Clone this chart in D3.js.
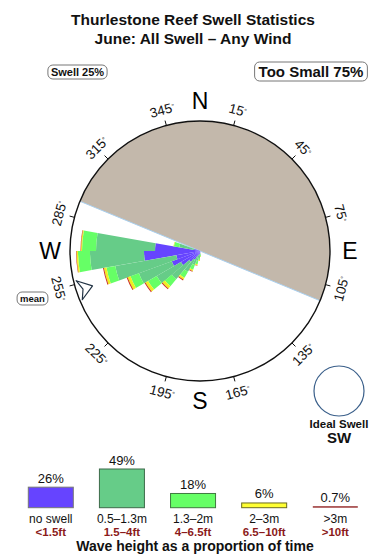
<!DOCTYPE html>
<html><head><meta charset="utf-8">
<script src="https://cdn.jsdelivr.net/npm/d3@7"></script>
<style>
body{margin:0;background:#fff}
svg{display:block;font-family:"Liberation Sans",Arial,Helvetica,sans-serif}
</style>
</head><body>
<svg id="chart" width="390" height="560"></svg>
<script>
// ---------- data ----------
const titleLines = ["Thurlestone Reef Swell Statistics", "June: All Swell \u2013 Any Wind"];
const swellShare = "Swell 25%";
const tooSmallShare = "Too Small 75%";
const directions = [175, 185, 195, 205, 215, 225, 235, 245, 255, 265, 275, 285];
const binWidth = 10;
// radial amounts per direction bin for each wave-height band (stacked outward)
const noSwell    = [0.2, 0.3, 0.4, 0.6, 1.0, 1.4, 2.2, 3.0, 2.4, 5.6, 4.5, 0.6];
const band05_13  = [0.2, 0.4, 0.6, 0.9, 1.4, 2.3, 2.8, 3.5, 6.2, 5.4, 5.9, 1.5];
const band13_2   = [0.15, 0.2, 0.35, 0.5, 0.7, 0.9, 1.0, 0.9, 0.9, 1.2, 1.4, 0.55];
const band2_3    = [0.05, 0.1, 0.1, 0.15, 0.2, 0.3, 0.3, 0.3, 0.25, 0.15, 0.1, 0.05];
const band3plus  = [0.0, 0.0, 0.05, 0.05, 0.1, 0.1, 0.1, 0.1, 0.1, 0.05, 0.05, 0.0];
const radialMax = 13;
const tooSmallFrom = 292.5, tooSmallTo = 472.5;
const meanDirection = 252;
const tickAngles = [15, 45, 75, 105, 135, 165, 195, 225, 255, 285, 315, 345];
const cardinals = ["N", "E", "S", "W"];
const cardinalAngles = [0, 90, 180, 270];
const bandNames = ["no swell", "0.5\u20131.3m", "1.3\u20132m", "2\u20133m", ">3m"];
const feetNames = ["<1.5ft", "1.5\u20134ft", "4\u20136.5ft", "6.5\u201310ft", ">10ft"];
const bandPercent = [26, 49, 18, 6, 0.7];
const bandPercentText = ["26%", "49%", "18%", "6%", "0.7%"];
const idealSwell = ["Ideal Swell", "SW"];
const legendCaption = "Wave height as a proportion of time";

// ---------- styles ----------
const rosefill = ["#6644ff", "#66cc88", "#66ff66", "#eeee22", "#cc3322"];
const legendFill = ["#6644ff", "#66cc88", "#66ff66", "#ffff33", "#993333"];
const legendStroke = ["#777777", "#3d6b4a", "#3f7a3f", "#6b6b20", "#7a3a3a"];

const svg = d3.select("#chart");
const cx = 200, cy = 251, R = 130;
const rad = d => d * Math.PI / 180;

// title
svg.selectAll("text.title").data(titleLines).join("text")
  .attr("x", 193).attr("y", (d, i) => 24.5 + i * 19)
  .attr("text-anchor", "middle").attr("font-size", 15.5).attr("font-weight", "bold")
  .attr("fill", "#111").text(d => d);

// share boxes
function labelBox(text, x, y, fs, padX, h) {
  const g = svg.append("g");
  const t = g.append("text").attr("x", x).attr("y", y).attr("text-anchor", "middle")
    .attr("dominant-baseline", "central").attr("font-size", fs).attr("font-weight", "bold")
    .attr("fill", "#111").text(text);
  const w = t.node().getComputedTextLength();
  g.insert("rect", "text").attr("x", x - w / 2 - padX).attr("y", y - h / 2)
    .attr("width", w + 2 * padX).attr("height", h).attr("rx", 5)
    .attr("fill", "#fff").attr("stroke", "#777").attr("stroke-width", 1);
}
labelBox(swellShare, 77.5, 72, 11, 3, 14);
labelBox(tooSmallShare, 311, 71.5, 15, 4, 19);
labelBox("mean", 32.5, 298.5, 9.5, 3, 13);

// rose
const g = svg.append("g").attr("transform", `translate(${cx},${cy})`);
const r = d3.scaleLinear().domain([0, radialMax]).range([0, R]);
const arc = d3.arc();

// too small sector
g.append("path").attr("d", arc({innerRadius: 0, outerRadius: R,
  startAngle: rad(tooSmallFrom), endAngle: rad(tooSmallTo)})).attr("fill", "#c3b8ab");
g.append("line")
  .attr("x1", R * Math.sin(rad(tooSmallFrom))).attr("y1", -R * Math.cos(rad(tooSmallFrom)))
  .attr("x2", R * Math.sin(rad(tooSmallTo))).attr("y2", -R * Math.cos(rad(tooSmallTo)))
  .attr("stroke", "#a9cfee").attr("stroke-width", 1);

// stacked bars
const table = directions.map((d, i) => ({dir: d, b0: noSwell[i], b1: band05_13[i], b2: band13_2[i], b3: band2_3[i], b4: band3plus[i]}));
const stack = d3.stack().keys(["b0", "b1", "b2", "b3", "b4"])(table);
stack.forEach((layer, li) => {
  g.append("g").selectAll("path").data(layer).join("path")
    .attr("d", d => arc({innerRadius: r(d[0]), outerRadius: r(d[1]),
      startAngle: rad(d.data.dir - binWidth / 2), endAngle: rad(d.data.dir + binWidth / 2)}))
    .attr("fill", rosefill[li]);
});

// outline
g.append("circle").attr("r", R).attr("fill", "none").attr("stroke", "#111").attr("stroke-width", 1.4);

// ticks and labels
g.selectAll("line.tick").data(tickAngles).join("line")
  .attr("x1", d => R * Math.sin(rad(d))).attr("y1", d => -R * Math.cos(rad(d)))
  .attr("x2", d => (R + 5) * Math.sin(rad(d))).attr("y2", d => -(R + 5) * Math.cos(rad(d)))
  .attr("stroke", "#111").attr("stroke-width", 1);
const tl = g.selectAll("text.tl").data(tickAngles).join("text")
  .attr("transform", d => {
    const rot = (d > 90 && d < 270) ? d - 180 : (d > 180 ? d - 360 : d);
    return `translate(${146 * Math.sin(rad(d))},${-146 * Math.cos(rad(d))}) rotate(${rot})`;
  })
  .attr("text-anchor", "middle").attr("dy", "0.36em").attr("font-size", 13.5).attr("fill", "#111");
tl.append("tspan").text(d => d);
tl.append("tspan").attr("dy", "-0.45em").attr("font-size", 7).text("\u00b0");

g.selectAll("text.card").data(cardinals).join("text")
  .attr("x", (d, i) => 150 * Math.sin(rad(cardinalAngles[i])))
  .attr("y", (d, i) => -150 * Math.cos(rad(cardinalAngles[i])))
  .attr("text-anchor", "middle").attr("dy", "0.36em").attr("font-size", 23).attr("fill", "#000")
  .text(d => d);

// mean arrow
{
  const pr = 126;
  const px = pr * Math.sin(rad(meanDirection)), py = -pr * Math.cos(rad(meanDirection));
  const ang = Math.atan2(-py, -px) * 180 / Math.PI;
  g.append("path").attr("d", "M13,0 L-1,-10 L3,0 L-1,10 Z")
    .attr("transform", `translate(${px},${py}) rotate(${ang})`)
    .attr("fill", "#fff").attr("stroke", "#223344").attr("stroke-width", 1.2).attr("stroke-linejoin", "round");
}

// ideal swell
svg.append("circle").attr("cx", 339).attr("cy", 391).attr("r", 25)
  .attr("fill", "none").attr("stroke", "#3a5f8a").attr("stroke-width", 1.2);
svg.selectAll("text.ideal").data(idealSwell).join("text")
  .attr("x", 339).attr("y", (d, i) => i ? 443 : 428).attr("text-anchor", "middle")
  .attr("font-weight", "bold").attr("font-size", (d, i) => i ? 15 : 11.5).attr("fill", "#111").text(d => d);

// legend
const lx = d3.scalePoint().domain(bandNames).range([50.8, 335.3]);
const lh = d3.scaleLinear().domain([0, 49]).range([0, 38.7]);
const base = 507.7, bw = 45;
const lg = svg.append("g");
lg.selectAll("rect").data(bandNames).join("rect")
  .attr("x", d => lx(d) - bw / 2).attr("width", bw)
  .attr("y", (d, i) => base - Math.max(lh(bandPercent[i]), 1.5))
  .attr("height", (d, i) => Math.max(lh(bandPercent[i]), 1.5))
  .attr("fill", (d, i) => legendFill[i])
  .attr("stroke", (d, i) => i === 4 ? "none" : legendStroke[i]).attr("stroke-width", 1);
lg.selectAll("text.pct").data(bandNames).join("text")
  .attr("x", d => lx(d)).attr("y", (d, i) => base - Math.max(lh(bandPercent[i]), 1.5) - 4.5)
  .attr("text-anchor", "middle").attr("font-size", 13).attr("fill", "#111")
  .text((d, i) => bandPercentText[i]);
lg.selectAll("text.nm").data(bandNames).join("text")
  .attr("x", d => lx(d)).attr("y", 522.5).attr("text-anchor", "middle")
  .attr("font-size", 12).attr("fill", "#111").text(d => d);
lg.selectAll("text.ft").data(feetNames).join("text")
  .attr("x", (d, i) => lx(bandNames[i])).attr("y", 535.5).attr("text-anchor", "middle")
  .attr("font-size", 11.5).attr("font-weight", "bold").attr("fill", "#8b1a1a").text(d => d);
lg.append("text").attr("x", 195).attr("y", 550.5).attr("text-anchor", "middle")
  .attr("font-size", 14).attr("font-weight", "bold").attr("fill", "#111").text(legendCaption);
</script>
</body></html>
